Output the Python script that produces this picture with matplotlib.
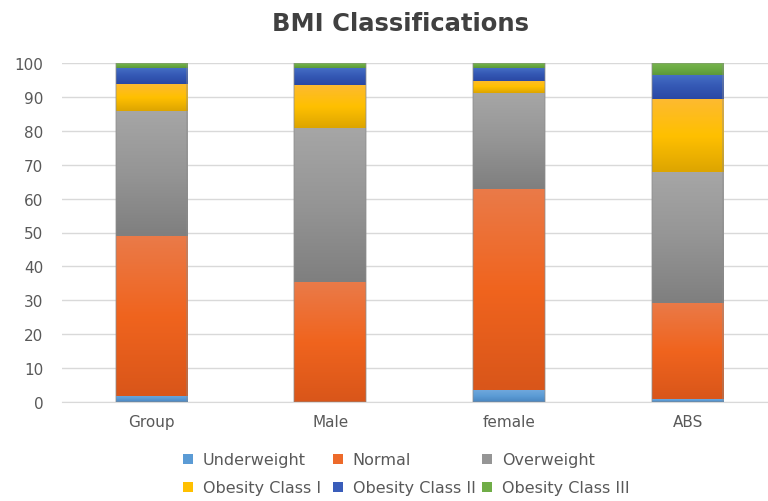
import matplotlib
matplotlib.use('Agg')
import matplotlib.pyplot as plt
import numpy as np
from matplotlib.patches import Patch
from matplotlib.colors import LinearSegmentedColormap

plt.rcParams['font.family'] = ['DejaVu Sans']

# data (percent of each group)
groups = ['Group', 'Male', 'female', 'ABS']
classes = ['Underweight', 'Normal', 'Overweight',
           'Obesity Class I', 'Obesity Class II', 'Obesity Class III']
underweight = [1.8, 0.0, 3.5, 0.8]
normal = [47.2, 35.4, 59.3, 28.4]
overweight = [37.0, 45.6, 28.3, 38.7]
obesity1 = [7.9, 12.6, 3.7, 21.5]
obesity2 = [4.8, 5.1, 3.9, 7.1]
obesity3 = [1.3, 1.3, 1.3, 3.5]
series = [underweight, normal, overweight, obesity1, obesity2, obesity3]

# excel style gradients: top, middle, bottom
base_colors = ['#5B9BD5', '#ED6A2A', '#959595', '#FFC000', '#3A5DBA', '#70AD47']
gradients = [
    ['#6FA8DC', '#5B9BD5', '#4A86C0'],
    ['#EA7A48', '#F0641E', '#D9561A'],
    ['#A6A6A6', '#959595', '#7F7F7F'],
    ['#FDBA30', '#FFC000', '#DDA500'],
    ['#4670C6', '#3458B4', '#2A48A4'],
    ['#78B44F', '#6AAA42', '#5C983A'],
]

fig = plt.figure(figsize=(7.68, 5.02), dpi=100)
ax = fig.add_axes([62 / 768, (502 - 402.7) / 502, (777 - 62) / 768, (402.7 - 64.3) / 502])

x = np.arange(len(groups))
bottom = np.zeros(len(groups))
for vals, grad in zip(series, gradients):
    bars = ax.bar(x, vals, 0.4, bottom=bottom, color=grad[1], linewidth=0, zorder=2)
    cmap = LinearSegmentedColormap.from_list('g', grad[::-1])
    grad_img = np.linspace(0, 1, 100).reshape(-1, 1)
    for b in bars:
        if b.get_height() <= 0:
            continue
        x0, y0 = b.get_x(), b.get_y()
        im = ax.imshow(grad_img, cmap=cmap, origin='lower', aspect='auto',
                       extent=[x0, x0 + b.get_width(), y0, y0 + b.get_height()],
                       zorder=3, interpolation='bilinear')
        im.set_clip_path(b)
    bottom += np.array(vals)

# soft shadow outline around each stacked bar
ax.bar(x, bottom, 0.4, fill=False, edgecolor=(0.55, 0.55, 0.55, 0.45), linewidth=1.2, zorder=4)

ax.set_xlim(-0.5, 3.5)
ax.set_ylim(0, 100)
ax.set_yticks(range(0, 101, 10))
ax.set_xticks(x)
ax.set_xticklabels(groups)
ax.yaxis.grid(True, color='#D9D9D9', linewidth=1.0, zorder=0)
ax.set_axisbelow(True)
for s in ['top', 'right', 'left']:
    ax.spines[s].set_visible(False)
ax.spines['bottom'].set_color('#D9D9D9')
ax.tick_params(axis='both', length=0, labelsize=11, colors='#595959')
ax.tick_params(axis='y', pad=13.5)
ax.tick_params(axis='x', pad=9)

fig.text(400 / 768, 1 - 24 / 502, 'BMI Classifications', ha='center', va='center',
         fontsize=17.5, fontweight='bold', color='#404040')

# legend: three columns, two rows
col_x = [183, 333, 482]
row_y = [461, 489]
for i, name in enumerate(classes):
    leg = fig.legend([Patch(facecolor=base_colors[i], edgecolor='none')], [name],
                     loc='center left',
                     bbox_to_anchor=(col_x[i % 3] / 768, 1 - row_y[i // 3] / 502),
                     frameon=False, fontsize=11.5, handlelength=0.62, handleheight=0.62,
                     handletextpad=0.62, borderpad=0, borderaxespad=0)
    for t in leg.get_texts():
        t.set_color('#595959')

fig.savefig('out.png', dpi=100)
